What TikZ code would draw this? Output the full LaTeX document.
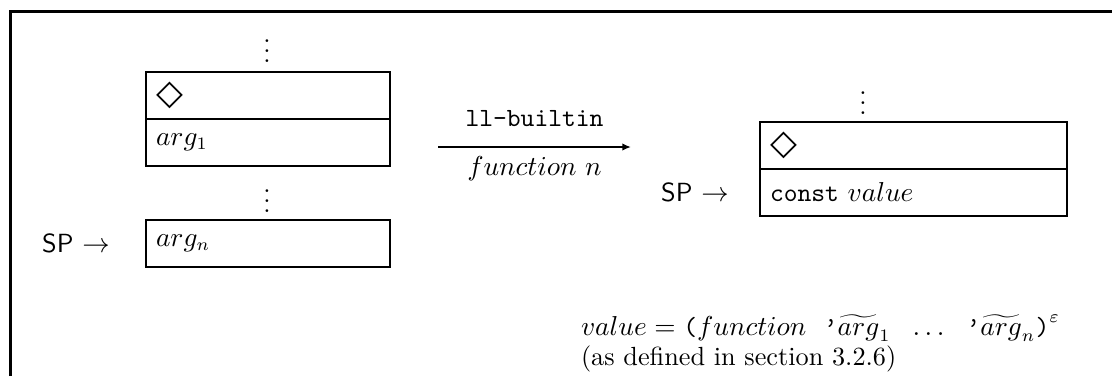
\documentclass[tikz,border=0pt]{standalone}
\usepackage{fontspec}
\newfontfamily\symbfont{DejaVu Sans}
\usetikzlibrary{positioning,arrows.meta}
\newcommand{\stackmark}{{\symbfont\fontsize{14pt}{14pt}\selectfont ◇}}
\begin{document}
\begin{tikzpicture}[
        x=0.4pt,
        y=-0.4pt,
        every node/.style={
            font=\fontsize{10.5pt}{12.6pt}\selectfont
        },
        cell/.style={
            draw,
            line width=0.8pt,
            minimum height=18.8pt,
            inner xsep=4pt,
            outer sep=0pt,
            align=left,
            anchor=north west
        },
        cellL/.style={cell, text width=89.6pt},
        cellR/.style={cell, text width=114.8pt},
        gap/.style={inner sep=1pt},
        frame/.style={
            draw,
            line width=1.2pt
        }
    ]
    \useasboundingbox (0,0) rectangle (1112,376);
    % 外框 - 只有左边和上边
    \coordinate (fbl) at (10,376);
    \coordinate (ftl) at (10,11);
    \coordinate (ftr) at (1112,11);
    \draw[frame] (fbl) -- (ftl) -- (ftr);
    % 左侧栈
    \node[gap] (dotsA) at (267,44) {$\vdots$};
    \node[cellL, inner ysep=1pt] (markA) at (146,72) {\stackmark};
    \node[cellL, below=0pt of markA] (argA) {$arg_1$};
    \node[gap] (dotsB) at (267,194) {$\vdots$};
    \node[cellL] (argN) at (146,220) {$arg_n$};
    \node[left=11pt of argN] (spA) {\textsf{SP} $\rightarrow$};
    % 中间箭头
    \coordinate (arrS) at (438,147);
    \coordinate (arrE) at (631,147);
    \draw[line width=1pt, -{Latex[length=3.5pt,width=3pt]}] (arrS) -- (arrE)
        node[midway, above=4.5pt] (lblT) {\texttt{ll-builtin}}
        node[midway, below] (lblB) {$function~n$};
    % 右侧栈
    \node[gap] (dotsC) at (863,96) {$\vdots$};
    \node[cellR, inner ysep=1pt] (markB) at (760,122) {\stackmark};
    \node[cellR, below=0pt of markB] (constV) {\texttt{const} $value$};
    \node[left=9pt of constV] (spB) {\textsf{SP} $\rightarrow$};
    % 说明文字
    \node[gap, anchor=base west] (valDef) at (578,335)
        {$value = \texttt{(}function\ \ \texttt{’}\widetilde{arg}_1\ \ \ldots\ \ \texttt{’}\widetilde{arg}_n\texttt{)}^{\varepsilon}$};
    \node[gap, anchor=base west] (valNote) at (578,365) {(as defined in section 3.2.6)};
\end{tikzpicture}
\end{document}
